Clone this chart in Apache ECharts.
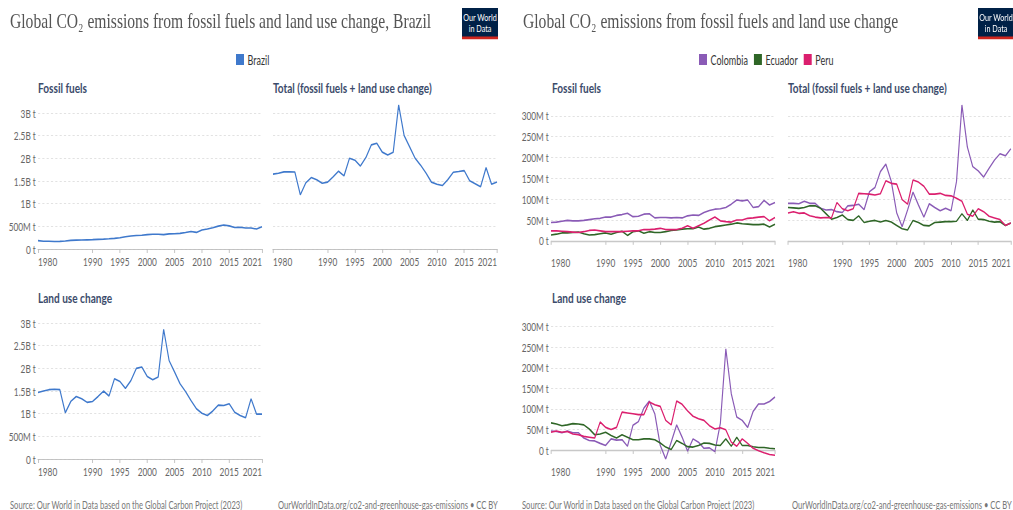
<!DOCTYPE html>
<html><head><meta charset="utf-8">
<script src="https://cdn.jsdelivr.net/npm/echarts@6/dist/echarts.min.js"></script>
<style>
html,body{margin:0;padding:0;overflow:hidden;background:#fff;width:1013px;height:510px}
#chart{position:absolute;left:0;top:0;height:510px;transform-origin:0 0;}
</style></head><body><div id="chart"></div>
<script>
// ---------------- DATA (million tonnes CO2) ----------------
const years = [1980,1981,1982,1983,1984,1985,1986,1987,1988,1989,1990,1991,1992,1993,1994,1995,1996,1997,1998,1999,2000,2001,2002,2003,2004,2005,2006,2007,2008,2009,2010,2011,2012,2013,2014,2015,2016,2017,2018,2019,2020,2021];
const xTickYears = [1980,1990,1995,2000,2005,2010,2015,2021];
const brazilTicks = [0,500,1000,1500,2000,2500,3000];
const andesTicks = [0,50,100,150,200,250,300];

const brazilFossil = [185,172,172,165,168,176,190,196,198,202,206,213,217,225,234,250,270,288,298,305,318,327,324,318,334,338,345,363,387,366,420,440,470,505,530,510,475,480,463,465,440,490];
const brazilLand = [1467,1500,1530,1540,1530,1020,1270,1380,1330,1250,1270,1380,1500,1390,1770,1710,1560,1730,2000,2030,1820,1750,1810,2860,2170,1920,1660,1490,1290,1110,1010,960,1060,1190,1180,1220,1030,960,910,1330,990,990];
const brazilTotal = [1652,1672,1702,1705,1698,1196,1460,1576,1528,1452,1476,1593,1717,1615,2004,1960,1830,2018,2298,2335,2138,2077,2134,3178,2504,2258,2005,1853,1677,1476,1430,1400,1530,1695,1710,1730,1505,1440,1373,1795,1430,1480];

const colombiaFossil = [44,45,47,49,48,48,49,51,53,54,57,57,61,63,66,58,59,64,65,55,56,56,55,56,55,60,62,61,68,73,76,77,80,88,98,96,98,80,82,97,86,92];
const colombiaLand = [46,45,42,46,42,42,29,23,22,16,11,27,24,25,9,60,69,102,119,88,11,-22,19,61,31,-3,27,19,4,5,-4,65,246,137,80,72,55,94,112,112,118,129];
const colombiaTotal = [90,90,89,95,90,90,78,74,75,70,68,84,85,88,75,118,128,166,184,143,67,34,74,117,86,57,89,80,72,78,72,142,326,225,178,168,153,174,194,209,204,221];

const ecuadorFossil = [14,16,19,19,20,21,17,14,15,17,19,16,20,23,13,22,24,18,22,20,20,22,25,26,28,29,29,33,28,30,34,36,38,40,43,41,40,39,39,40,33,40];
const ecuadorLand = [66,63,59,61,64,63,61,51,37,39,43,35,29,37,31,25,25,27,27,25,17,7,1,23,16,8,7,11,17,16,12,11,27,9,31,11,11,8,6,6,4,3];
const ecuadorTotal = [80,79,78,80,84,84,78,65,52,56,62,51,49,60,44,47,49,45,49,45,37,29,26,49,44,37,36,44,45,46,46,47,65,49,74,52,51,47,45,46,37,43];

const peruFossil = [24,24,23,22,21,20,22,25,26,24,22,22,22,22,23,24,24,27,27,28,30,27,27,27,30,36,30,36,42,50,57,48,46,45,50,50,54,55,57,58,48,56];
const peruLand = [43,46,43,45,39,37,33,31,29,68,55,50,55,92,90,88,86,86,117,110,106,72,61,119,111,95,82,76,72,59,51,54,49,19,9,27,16,4,-2,-7,-11,-13];
const peruTotal = [67,70,66,67,60,57,55,56,55,92,77,72,77,114,113,112,110,113,144,138,136,99,88,146,141,131,112,112,114,109,108,102,95,64,59,77,70,59,55,51,37,43];

const titleLeft = 'Global CO\u2082 emissions from fossil fuels and land use change, Brazil';
const titleRight = 'Global CO\u2082 emissions from fossil fuels and land use change';
const panelNames = ['Fossil fuels', 'Total (fossil fuels + land use change)', 'Land use change'];
const sourceText = 'Source: Our World in Data based on the Global Carbon Project (2023)';
const urlText = 'OurWorldInData.org/co2-and-greenhouse-gas-emissions \u2022 CC BY';

// ---------------- LAYOUT ----------------
const S = 0.72;                       // horizontal squeeze of the reference
const W = 1013 / S;
const el = document.getElementById('chart');
el.style.width = W + 'px';
el.style.transform = 'scaleX(' + S + ')';
const X = px => px / S;

const FF = 'Lato, "Noto Sans", sans-serif';
const SERIF = '"Liberation Serif", "DejaVu Serif", serif';
const C = {brazil:'#3f79cc', colombia:'#8a5bb6', ecuador:'#2f6627', peru:'#db1f6e'};

function yFmt(v){ if (v === 0) return '0 t'; if (Math.abs(v) >= 1000) return (v/1000) + 'B t'; return v + 'M t'; }

const leftMax = Math.max(...brazilFossil, ...brazilLand, ...brazilTotal);
const rightAll = [...colombiaFossil, ...colombiaLand, ...colombiaTotal, ...ecuadorFossil, ...ecuadorLand, ...ecuadorTotal, ...peruFossil, ...peruLand, ...peruTotal];
const rightMax = Math.max(...rightAll);
const rightMin = Math.min(...rightAll);

const grids = [
  {left: X(38),  top: 105, width: X(224), height: 144},
  {left: X(273), top: 105, width: X(224), height: 144},
  {left: X(38),  top: 315, width: X(224), height: 144},
  {left: X(551), top: 105, width: X(224), height: 145},
  {left: X(788), top: 105, width: X(223), height: 145},
  {left: X(551), top: 316, width: X(224), height: 143}
];

function xAx(gi, showLine){
  return {type:'value', gridIndex:gi, min:1980, max:2021,
    axisLine:{show:showLine, lineStyle:{color:'#bbb', width:1}},
    axisTick:{show:true, length:4, lineStyle:{color:'#bbb'}, customValues:xTickYears},
    axisLabel:{customValues:xTickYears, formatter:v => String(v), color:'#666', fontFamily:FF, fontSize:11.5, margin:6,
      alignMinLabel:'left', alignMaxLabel:'right'},
    splitLine:{show:false}};
}
function yAx(gi, showLabels, min, max, ticks){
  return {type:'value', gridIndex:gi, min:min, max:max,
    axisLine:{show:false}, axisTick:{show:false, customValues:ticks},
    axisLabel:{show:showLabels, customValues:ticks, formatter:yFmt, color:'#666', fontFamily:FF, fontSize:11.5, margin:3},
    splitLine:{show:true, lineStyle:{color:'#ddd', type:[3,3], width:1}}};
}
function ln(name, vals, idx, color, zero){
  const s = {type:'line', name:name, xAxisIndex:idx, yAxisIndex:idx,
    data: years.map((y,i) => [y, vals[i]]), showSymbol:false, symbol:'none',
    lineStyle:{width:1.6, color:color}, itemStyle:{color:color}, emphasis:{disabled:true}, animation:false};
  if (zero) s.markLine = {silent:true, symbol:['none','none'], label:{show:false}, animation:false,
    lineStyle:{color:'#c8c8c8', type:'solid', width:1.3}, data:[{yAxis:0}], z:1};
  return s;
}

const pTitle = {fontFamily:FF, fontSize:14, fontWeight:'bold', color:'#3b4b6b'};
const foot = {fontFamily:FF, fontSize:10.6, fontWeight:'normal', color:'#777'};
const mainT = {fontFamily:SERIF, fontSize:21.7, fontWeight:'normal', color:'#555'};

function logo(x){
  return {type:'group', left:X(x), top:8, children:[
    {type:'rect', shape:{x:0, y:0, width:X(36), height:31}, style:{fill:'#002147'}},
    {type:'rect', shape:{x:0, y:28.5, width:X(36), height:2.7}, style:{fill:'#ce261e'}},
    {type:'text', x:X(18), y:9, style:{text:'Our World', fill:'#fff', font:'10px Lato', align:'center', verticalAlign:'middle'}},
    {type:'text', x:X(18), y:20, style:{text:'in Data', fill:'#fff', font:'10px Lato', align:'center', verticalAlign:'middle'}}
  ]};
}

const option = {
  animation:false,
  backgroundColor:'#fff',
  title: [
    {text:titleLeft, left:X(10), top:10, padding:0, textStyle:mainT},
    {text:titleRight, left:X(523), top:10, padding:0, textStyle:mainT},
    {text:panelNames[0], left:X(38), top:81, padding:0, textStyle:pTitle},
    {text:panelNames[1], left:X(273), top:81, padding:0, textStyle:pTitle},
    {text:panelNames[2], left:X(38), top:291, padding:0, textStyle:pTitle},
    {text:panelNames[0], left:X(552), top:81, padding:0, textStyle:pTitle},
    {text:panelNames[1], left:X(788), top:81, padding:0, textStyle:pTitle},
    {text:panelNames[2], left:X(552), top:291, padding:0, textStyle:pTitle},
    {text:sourceText, left:X(10), top:499, padding:0, textStyle:foot},
    {text:urlText, left:X(278), top:499, padding:0, textStyle:foot},
    {text:sourceText, left:X(522), top:499, padding:0, textStyle:foot},
    {text:urlText, left:X(792), top:499, padding:0, textStyle:foot}
  ],
  legend: [
    {data:['Brazil'], left:X(236), top:53, padding:0, icon:'rect', itemWidth:X(8), itemHeight:11, itemGap:X(8),
      textStyle:{fontFamily:FF, fontSize:12.5, color:'#333'}, selectedMode:false},
    {data:['Colombia','Ecuador','Peru'], left:X(699), top:53, padding:0, icon:'rect', itemWidth:X(8), itemHeight:11, itemGap:X(6),
      textStyle:{fontFamily:FF, fontSize:12.5, color:'#333'}, selectedMode:false}
  ],
  graphic: [logo(462), logo(978)],
  grid: grids,
  xAxis: [xAx(0,true), xAx(1,true), xAx(2,true), xAx(3,false), xAx(4,false), xAx(5,false)],
  yAxis: [
    yAx(0,true,0,leftMax,brazilTicks), yAx(1,false,0,leftMax,brazilTicks), yAx(2,true,0,leftMax,brazilTicks),
    yAx(3,true,rightMin,rightMax,andesTicks), yAx(4,false,rightMin,rightMax,andesTicks), yAx(5,true,rightMin,rightMax,andesTicks)
  ],
  series: [
    ln('Brazil', brazilFossil, 0, C.brazil),
    ln('Brazil', brazilTotal, 1, C.brazil),
    ln('Brazil', brazilLand, 2, C.brazil),
    ln('Colombia', colombiaFossil, 3, C.colombia, true),
    ln('Ecuador', ecuadorFossil, 3, C.ecuador),
    ln('Peru', peruFossil, 3, C.peru),
    ln('Colombia', colombiaTotal, 4, C.colombia, true),
    ln('Ecuador', ecuadorTotal, 4, C.ecuador),
    ln('Peru', peruTotal, 4, C.peru),
    ln('Colombia', colombiaLand, 5, C.colombia, true),
    ln('Ecuador', ecuadorLand, 5, C.ecuador),
    ln('Peru', peruLand, 5, C.peru)
  ]
};
const chart = echarts.init(el, null, {renderer:'svg', width:W, height:510});
chart.setOption(option);
</script></body></html>
